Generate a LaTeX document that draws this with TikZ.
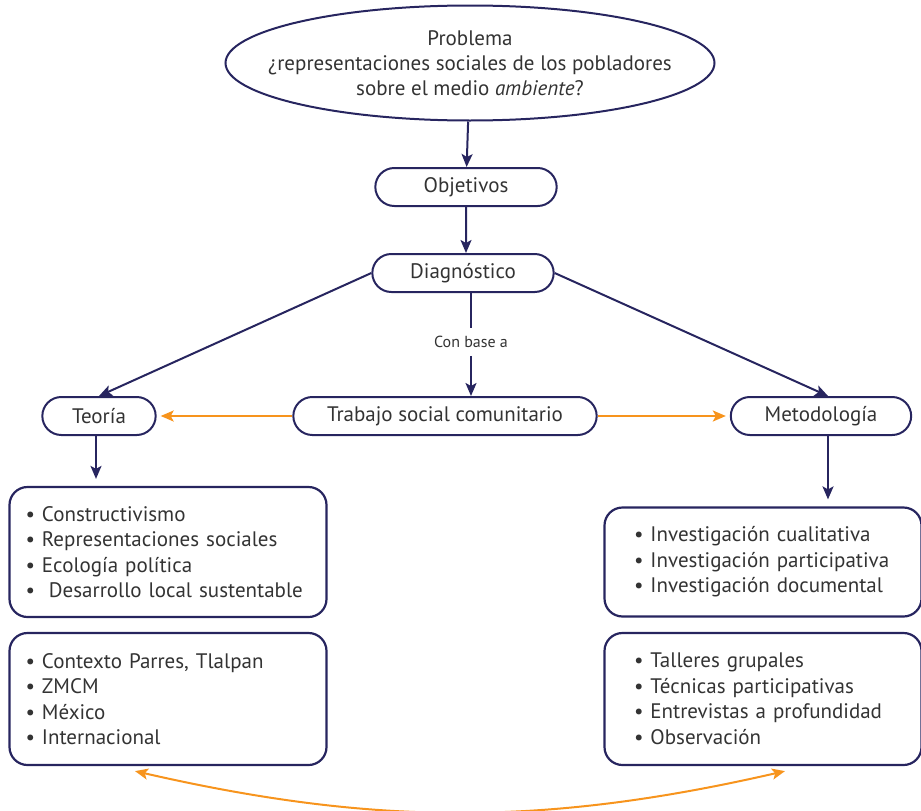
\documentclass[tikz,border=0pt]{standalone}
\usepackage{fontspec}
\setmainfont{PT Sans}
\usepackage{tikz}
\usetikzlibrary{arrows.meta, positioning, shapes.geometric, shapes.misc}
\definecolor{navy}{HTML}{27255F}
\definecolor{naranja}{HTML}{F7941D}
\definecolor{texto}{HTML}{333333}

\begin{document}
\begin{tikzpicture}[x=1pt, y=1pt,
    pill/.style={draw=navy, line width=2pt, rounded rectangle, minimum height=38pt, text=texto, font=\fontsize{21}{25}\selectfont},
    listbox/.style={draw=navy, line width=2.2pt, rounded corners=18pt, minimum width=317pt, text=texto, align=left, font=\fontsize{21}{25.5}\selectfont},
    flecha/.style={draw=navy, line width=2pt, -{Stealth[length=13pt,width=11pt,inset=3pt]}},
    enlace/.style={draw=naranja, line width=2pt, -{Stealth[length=13pt,width=11pt,inset=3pt]}}]

    \useasboundingbox (0,0) rectangle (921,-811);

    % Problem and first steps
    \node (problema) at (470,-63) [draw=navy, line width=2pt, ellipse, minimum width=489pt, minimum height=115pt,
        label={[align=center, text=texto, font=\fontsize{21}{25}\selectfont]center:Problema\\¿representaciones sociales de los pobladores\\sobre el medio \textit{ambiente}?}] {};
    \node (objetivos) at (466,-187) [pill, minimum width=188pt] {Objetivos};
    \node (diagnostico) at (463,-273) [pill, minimum width=188pt] {Diagnóstico};

    % Middle row
    \node (teoria) at (99,-416) [pill, minimum width=120pt] {Teoría};
    \node (trabajo) at (445,-416) [pill, minimum width=310pt] {Trabajo social comunitario};
    \node (metodologia) at (821,-416) [pill, minimum width=187pt] {Metodología};
    \node (conbase) at (471,-342) [text=texto, font=\fontsize{16}{18}\selectfont, inner ysep=8pt] {Con base a};

    % Lists
    \node (teorias) at (168,-552) [listbox, minimum height=130pt, inner xsep=16pt, text width=285pt] {%
        • Constructivismo\\• Representaciones sociales\\• Ecología política\\•\ \ Desarrollo local sustentable};
    \node (investigacion) at (763,-562) [listbox, minimum height=109pt, inner xsep=29pt, text width=258pt] {%
        • Investigación cualitativa\\• Investigación participativa\\• Investigación documental};
    \node (contexto) at (168,-699) [listbox, minimum height=132pt, inner xsep=16pt, text width=285pt] {%
        • Contexto Parres, Tlalpan\\• ZMCM\\• México\\• Internacional};
    \node (tecnicas) at (763,-699) [listbox, minimum height=132pt, inner xsep=29pt, text width=258pt] {%
        • Talleres grupales\\• Técnicas participativas\\• Entrevistas a profundidad\\• Observación};

    % Arrows
    \draw[flecha] (problema) -- (objetivos);
    \draw[flecha] (objetivos) -- (objetivos |- diagnostico.north);
    \draw[flecha] (diagnostico.west) -- (teoria.north);
    \draw[flecha] (diagnostico.east) -- ([xshift=7pt]metodologia.north);
    \draw[draw=navy, line width=2pt] (diagnostico.south -| conbase) -- (conbase);
    \draw[flecha] (conbase) -- (conbase |- trabajo.north);
    \draw[enlace, shorten >=4pt] (trabajo.west) -- (teoria.east);
    \draw[enlace, shorten >=4pt] (trabajo.east) -- (metodologia.west);
    \draw[flecha, shorten >=7pt] ([xshift=-3pt]teoria.south) -- ([xshift=-3pt]teoria.south |- teorias.north);
    \draw[flecha, shorten >=7pt] ([xshift=7pt]metodologia.south) -- ([xshift=7pt]metodologia.south |- investigacion.north);
    \draw[enlace, {Stealth[length=13pt,width=11pt,inset=3pt]}-{Stealth[length=13pt,width=11pt,inset=3pt]}]
        ([xshift=-33pt,yshift=-5pt]contexto.south) .. controls +(240,-55) and +(-240,-55) .. ([xshift=22pt,yshift=-5pt]tecnicas.south);

\end{tikzpicture}
\end{document}
